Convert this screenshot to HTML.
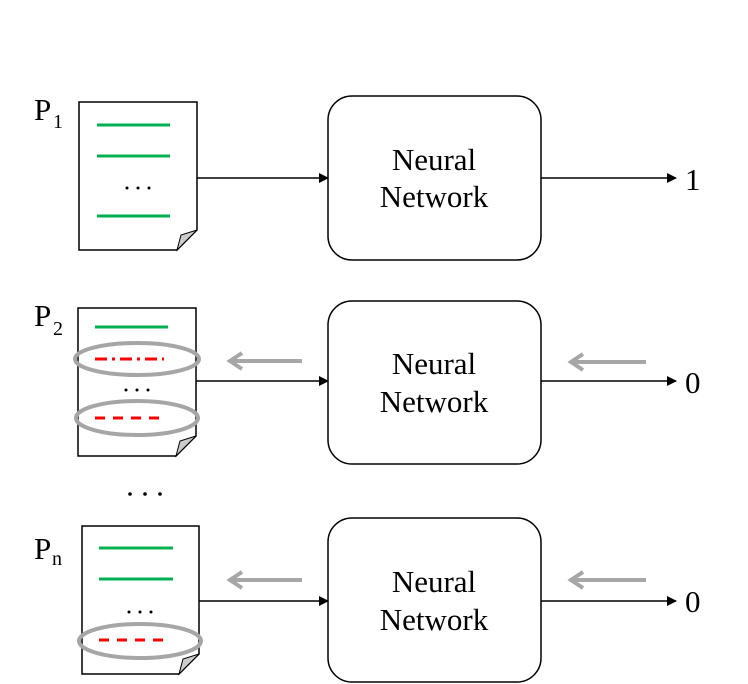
<!DOCTYPE html>
<html><head><style>html,body{margin:0;padding:0;background:#fff;}svg{display:block;}</style></head>
<body>
<svg width="748" height="684" viewBox="0 0 748 684" xmlns="http://www.w3.org/2000/svg" font-family="Liberation Serif, serif">
<defs>
<marker id="ah" markerWidth="10" markerHeight="10" refX="9" refY="5" orient="auto" markerUnits="userSpaceOnUse">
<path d="M0,0 L10,5 L0,10 z" fill="#000"/></marker>
</defs>
<g fill="none" stroke="#000" stroke-width="1.5">
<path d="M79,102 H197 V230 L177,250 H79 Z" fill="#fff"/>
<path d="M78,308 H196 V436 L176,456 H78 Z" fill="#fff"/>
<path d="M82,526 H199 V654 L179,674 H82 Z" fill="#fff"/>
</g>
<g fill="#ccc" stroke="#000" stroke-width="1">
<path d="M197,230 L181,235 L177,250 Z"/>
<path d="M196,436 L180,441 L176,456 Z"/>
<path d="M199,654 L183,659 L179,674 Z"/>
</g>
<g stroke="#00b050" stroke-width="3">
<line x1="97" y1="125" x2="170" y2="125"/>
<line x1="97" y1="156" x2="170" y2="156"/>
<line x1="97" y1="216" x2="170" y2="216"/>
<line x1="95" y1="327" x2="168" y2="327"/>
<line x1="99" y1="548" x2="173" y2="548"/>
<line x1="99" y1="579" x2="173" y2="579"/>
</g>
<g stroke="#f00" stroke-width="3">
<line x1="95" y1="359" x2="164" y2="359" stroke-dasharray="12,5,3,5"/>
<line x1="95" y1="418" x2="162" y2="418" stroke-dasharray="10,8"/>
<line x1="99" y1="640" x2="166" y2="640" stroke-dasharray="10,8"/>
</g>
<g fill="none" stroke="#a6a6a6" stroke-width="4">
<ellipse cx="137" cy="359" rx="62" ry="16"/>
<ellipse cx="137" cy="418" rx="61" ry="17"/>
<ellipse cx="140" cy="641" rx="61" ry="17"/>
<path d="M302,361 H230 M242,353 L230,361 L242,369"/>
<path d="M646,362 H571 M583,354 L571,362 L583,370"/>
<path d="M302,580 H230 M242,572 L230,580 L242,588"/>
<path d="M646,580 H571 M583,572 L571,580 L583,588"/>
</g>
<g fill="#000">
<circle cx="127" cy="188" r="1.5"/><circle cx="138" cy="188" r="1.5"/><circle cx="149" cy="188" r="1.5"/>
<circle cx="126" cy="390" r="1.5"/><circle cx="137" cy="390" r="1.5"/><circle cx="148" cy="390" r="1.5"/>
<circle cx="130" cy="494" r="1.8"/><circle cx="145" cy="494" r="1.8"/><circle cx="160" cy="494" r="1.8"/>
<circle cx="129" cy="612" r="1.5"/><circle cx="140" cy="612" r="1.5"/><circle cx="151" cy="612" r="1.5"/>
</g>
<g fill="#fff" stroke="#000" stroke-width="1.5">
<rect x="328" y="96" width="213" height="164" rx="24"/>
<rect x="328" y="301" width="213" height="163" rx="24"/>
<rect x="328" y="518" width="213" height="164" rx="24"/>
</g>
<g stroke="#000" stroke-width="1.5" marker-end="url(#ah)">
<line x1="197" y1="178" x2="328" y2="178"/>
<line x1="541" y1="178" x2="676" y2="178"/>
<line x1="196" y1="381" x2="328" y2="381"/>
<line x1="541" y1="381" x2="676" y2="381"/>
<line x1="199" y1="601" x2="328" y2="601"/>
<line x1="541" y1="601" x2="676" y2="601"/>
</g>
<g font-size="31" text-anchor="middle" fill="#000">
<text x="434" y="170">Neural</text><text x="434" y="207">Network</text>
<text x="434" y="374">Neural</text><text x="434" y="412">Network</text>
<text x="434" y="592">Neural</text><text x="434" y="630">Network</text>
</g>
<g font-size="31" fill="#000">
<text x="685" y="190">1</text>
<text x="685" y="393">0</text>
<text x="685" y="612">0</text>
<text x="34" y="120">P</text><text x="53" y="128" font-size="20">1</text>
<text x="34" y="326">P</text><text x="53" y="335" font-size="20">2</text>
<text x="34" y="559">P</text><text x="52" y="565" font-size="20">n</text>
</g>
</svg>
</body></html>
